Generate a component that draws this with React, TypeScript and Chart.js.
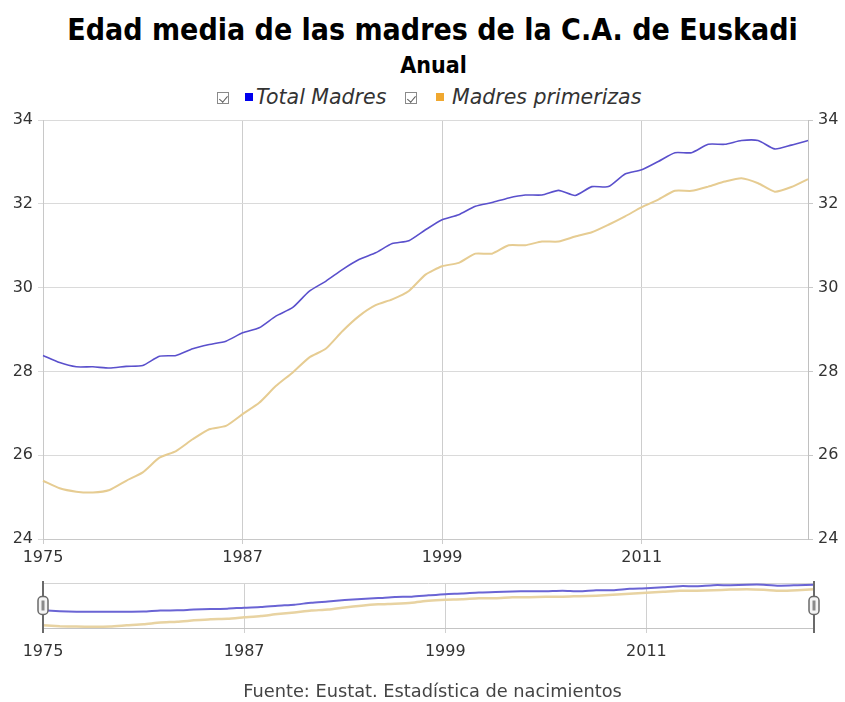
import React, { useEffect, useRef } from 'react';
import { Chart, registerables } from 'chart.js';

Chart.register(...registerables);

const years = [
  '1975', '1976', '1977', '1978', '1979', '1980', '1981', '1982', '1983', '1984',
  '1985', '1986', '1987', '1988', '1989', '1990', '1991', '1992', '1993', '1994',
  '1995', '1996', '1997', '1998', '1999', '2000', '2001', '2002', '2003', '2004',
  '2005', '2006', '2007', '2008', '2009', '2010', '2011', '2012', '2013', '2014',
  '2015', '2016', '2017', '2018', '2019', '2020', '2021',
];

const totalMadres = [
  28.38, 28.21, 28.11, 28.11, 28.08, 28.12, 28.14, 28.36, 28.38, 28.54,
  28.64, 28.72, 28.92, 29.04, 29.32, 29.52, 29.91, 30.15, 30.43, 30.67,
  30.83, 31.05, 31.12, 31.38, 31.62, 31.74, 31.94, 32.03, 32.14, 32.21,
  32.21, 32.32, 32.2, 32.41, 32.41, 32.71, 32.81, 33.01, 33.22, 33.22,
  33.42, 33.42, 33.51, 33.51, 33.31, 33.4, 33.51,
];

const madresPrimerizas = [
  25.39, 25.21, 25.13, 25.11, 25.17, 25.39, 25.59, 25.94, 26.1, 26.38,
  26.62, 26.7, 26.98, 27.25, 27.65, 27.97, 28.33, 28.54, 28.96, 29.32,
  29.58, 29.72, 29.92, 30.31, 30.51, 30.59, 30.81, 30.81, 31.01, 31.01,
  31.1, 31.1, 31.22, 31.32, 31.5, 31.7, 31.92, 32.1, 32.31, 32.31,
  32.41, 32.53, 32.61, 32.49, 32.29, 32.4, 32.59,
];

const yTicks = [24, 26, 28, 30, 32, 34];
const xTickEvery = 12;

const seriesNames = ['Total Madres', 'Madres primerizas'];
const lineColors = ['#5a50cc', '#e6cc92'];
const legendColors = ['#0000ee', '#f0a830'];

const TEXT_FONT = "'DejaVu Sans', Verdana, sans-serif";

const navDecor = {
  id: 'navDecor',
  beforeDatasetsDraw(chart: any) {
    const { ctx, chartArea: a } = chart;
    ctx.save();
    ctx.strokeStyle = '#d4d4d4';
    ctx.lineWidth = 1;
    ctx.beginPath();
    ctx.moveTo(a.left, Math.round(a.top) + 0.5);
    ctx.lineTo(a.right, Math.round(a.top) + 0.5);
    ctx.stroke();
    ctx.restore();
  },
  afterDraw(chart: any) {
    const { ctx, chartArea: a } = chart;
    const mid = (a.top + a.bottom) / 2;
    ctx.save();
    [a.left, a.right].forEach((x: number) => {
      ctx.strokeStyle = '#6a6a6a';
      ctx.lineWidth = 2;
      ctx.beginPath();
      ctx.moveTo(x, a.top - 2);
      ctx.lineTo(x, a.bottom + 5);
      ctx.stroke();
      ctx.beginPath();
      (ctx as any).roundRect(x - 5, mid - 9, 10, 18, 4);
      ctx.fillStyle = '#f4f4f4';
      ctx.fill();
      ctx.lineWidth = 1.5;
      ctx.stroke();
      ctx.fillStyle = '#8a8a8a';
      ctx.fillRect(x - 1.5, mid - 5, 3, 10);
    });
    ctx.restore();
  },
};

function xGridColor(base: string) {
  return (c: any) => (c.index % xTickEvery === 0 ? base : 'rgba(0,0,0,0)');
}

export default function App() {
  const mainRef = useRef<HTMLCanvasElement>(null);
  const navRef = useRef<HTMLCanvasElement>(null);

  useEffect(() => {
    const tickFont = { family: TEXT_FONT, size: 16 };
    const main = new Chart(mainRef.current!, {
      type: 'line',
      data: {
        labels: years,
        datasets: [
          {
            label: seriesNames[0],
            data: totalMadres,
            borderColor: lineColors[0],
            borderWidth: 1.6,
            pointRadius: 0,
            tension: 0.2,
            fill: false,
          },
          {
            label: seriesNames[1],
            data: madresPrimerizas,
            borderColor: lineColors[1],
            borderWidth: 2,
            pointRadius: 0,
            tension: 0.2,
            fill: false,
          },
        ],
      },
      options: {
        animation: false,
        responsive: false,
        maintainAspectRatio: false,
        layout: { padding: { top: 15, left: 0, right: 0, bottom: 0 } },
        plugins: { legend: { display: false }, tooltip: { enabled: false }, title: { display: false } },
        scales: {
          x: {
            type: 'category',
            offset: false,
            grid: { color: xGridColor('#cdcdcd'), tickLength: 5 },
            border: { color: '#c8c8c8' },
            ticks: {
              autoSkip: false,
              maxRotation: 0,
              minRotation: 0,
              padding: 4,
              color: '#333',
              font: tickFont,
              callback: (_v: any, i: number) => (i % xTickEvery === 0 ? years[i] : ''),
            },
            afterFit: (s: any) => { s.height = 41; },
          },
          y: {
            position: 'left',
            min: yTicks[0],
            max: yTicks[yTicks.length - 1],
            afterBuildTicks: (s: any) => { s.ticks = yTicks.map((v) => ({ value: v })); },
            grid: { color: '#dadada', tickLength: 5 },
            border: { color: '#c8c8c8' },
            ticks: { padding: 5, color: '#333', font: tickFont },
            afterFit: (s: any) => { s.width = 43; },
          },
          y2: {
            position: 'right',
            min: yTicks[0],
            max: yTicks[yTicks.length - 1],
            afterBuildTicks: (s: any) => { s.ticks = yTicks.map((v) => ({ value: v })); },
            grid: { drawOnChartArea: false, color: '#c8c8c8', tickLength: 5 },
            border: { color: '#c0c0c0' },
            ticks: { padding: 5, color: '#333', font: tickFont },
            afterFit: (s: any) => { s.width = 37; },
          },
        },
      },
    } as any);

    const nav = new Chart(navRef.current!, {
      type: 'line',
      data: {
        labels: years,
        datasets: [
          {
            label: seriesNames[0],
            data: totalMadres,
            borderColor: '#6a64d4',
            borderWidth: 2,
            pointRadius: 0,
            tension: 0.2,
          },
          {
            label: seriesNames[1],
            data: madresPrimerizas,
            borderColor: '#e8d3a2',
            borderWidth: 2.5,
            pointRadius: 0,
            tension: 0.2,
          },
        ],
      },
      options: {
        animation: false,
        responsive: false,
        maintainAspectRatio: false,
        layout: { padding: { top: 13, left: 43, right: 31, bottom: 0 } },
        plugins: { legend: { display: false }, tooltip: { enabled: false } },
        scales: {
          x: {
            type: 'category',
            offset: false,
            grid: { color: xGridColor('#d0d0d0'), tickLength: 5 },
            border: { color: '#c4c4c4' },
            ticks: {
              autoSkip: false,
              maxRotation: 0,
              minRotation: 0,
              padding: 9,
              color: '#333',
              font: tickFont,
              callback: (_v: any, i: number) => (i % xTickEvery === 0 ? years[i] : ''),
            },
            afterFit: (s: any) => { s.height = 42; },
          },
          y: { display: false, min: 24.85, max: 33.85 },
        },
      },
      plugins: [navDecor],
    } as any);

    return () => {
      main.destroy();
      nav.destroy();
    };
  }, []);

  const checkbox = (left: number) => (
    <span
      style={{
        position: 'absolute',
        left,
        top: 92,
        width: 10,
        height: 10,
        border: '1px solid #8a8a8a',
        background: '#fff',
      }}
    >
      <span
        style={{
          position: 'absolute',
          left: 3,
          top: 0.5,
          width: 3.5,
          height: 7,
          borderRight: '1.4px solid #5a5a5a',
          borderBottom: '1.4px solid #5a5a5a',
          transform: 'rotate(40deg)',
        }}
      />
    </span>
  );

  const legendText = (left: number, text: string) => (
    <span
      style={{
        position: 'absolute',
        left,
        top: 85,
        fontFamily: TEXT_FONT,
        fontStyle: 'italic',
        fontSize: 20.5,
        lineHeight: '24px',
        color: '#333',
        whiteSpace: 'nowrap',
      }}
    >
      {text}
    </span>
  );

  const square = (left: number, color: string) => (
    <span style={{ position: 'absolute', left, top: 93, width: 8, height: 8, background: color }} />
  );

  return (
    <div
      style={{
        position: 'fixed',
        left: 0,
        top: 0,
        width: 845,
        height: 702,
        background: '#fff',
        overflow: 'hidden',
      }}
    >
      <div
        style={{
          position: 'absolute',
          left: 0,
          top: 12,
          width: 865,
          textAlign: 'center',
          fontFamily: "'DejaVu Sans Condensed', 'DejaVu Sans', sans-serif",
          fontStretch: 'condensed',
          fontWeight: 'bold',
          fontSize: 30,
          lineHeight: '36px',
          color: '#000',
          whiteSpace: 'nowrap',
        }}
      >
        Edad media de las madres de la C.A. de Euskadi
      </div>
      <div
        style={{
          position: 'absolute',
          left: 0,
          top: 51,
          width: 867,
          textAlign: 'center',
          fontFamily: "'DejaVu Sans Condensed', 'DejaVu Sans', sans-serif",
          fontStretch: 'condensed',
          fontWeight: 'bold',
          fontSize: 23,
          lineHeight: '28px',
          color: '#000',
        }}
      >
        Anual
      </div>
      {checkbox(217)}
      {square(245, legendColors[0])}
      {legendText(256, seriesNames[0])}
      {checkbox(405)}
      {square(436, legendColors[1])}
      {legendText(452, seriesNames[1])}
      <canvas
        ref={mainRef}
        width={845}
        height={475}
        style={{ position: 'absolute', left: 0, top: 105, width: 845, height: 475 }}
      />
      <canvas
        ref={navRef}
        width={845}
        height={100}
        style={{ position: 'absolute', left: 0, top: 570, width: 845, height: 100 }}
      />
      <div
        style={{
          position: 'absolute',
          left: 0,
          top: 680,
          width: 865,
          textAlign: 'center',
          fontFamily: TEXT_FONT,
          fontSize: 17.8,
          lineHeight: '22px',
          color: '#444',
          whiteSpace: 'nowrap',
        }}
      >
        Fuente: Eustat. Estadística de nacimientos
      </div>
    </div>
  );
}
